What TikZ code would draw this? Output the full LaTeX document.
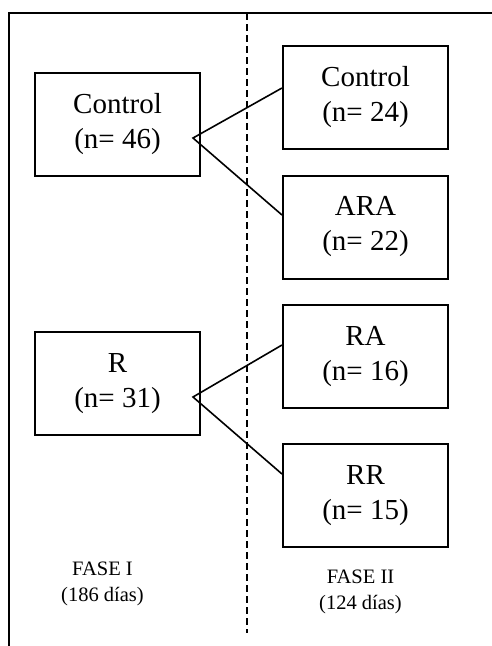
\documentclass[tikz,border=0pt]{standalone}
\usepackage{fontspec}
\setmainfont{Liberation Serif}
\usepackage{tikz}
\usetikzlibrary{positioning}

\begin{document}
\begin{tikzpicture}
        [
        x=1pt,y=-1pt,
        grupo/.style={rectangle,draw,line width=2pt,minimum width=165pt,minimum height=103pt,
                      align=center,font=\fontsize{29}{35}\selectfont},
        fase/.style={align=center,font=\fontsize{20.5}{25.5}\selectfont},
        edge/.style={line width=1.6pt}
        ]
    \useasboundingbox (0,0) rectangle (492,646);
    \draw[line width=2pt] (9,646) -- (9,13) -- (492,13);
    \draw[line width=1.6pt,dash pattern=on 7pt off 4pt] (247,13) -- (247,633);
    \node[grupo] (c1) at (117.5,124) {Control\\(n= 46)};
    \node[grupo] (r1) at (117.5,383.5) {R\\(n= 31)};
    \node[grupo] (c2) at (365.5,97.5) {Control\\(n= 24)};
    \node[grupo] (ara) at (365.5,227) {ARA\\(n= 22)};
    \node[grupo] (ra) at (365.5,356.5) {RA\\(n= 16)};
    \node[grupo] (rr) at (365.5,495.5) {RR\\(n= 15)};
    \node[fase] (f1) at (102.5,584) {FASE I\\(186 días)};
    \node[fase] (f2) at (360.5,592) {FASE II\\(124 días)};
    \coordinate (a1) at ([xshift=-8pt,yshift=-14pt]c1.east);
    \coordinate (a2) at ([xshift=-8pt,yshift=-13.5pt]r1.east);
    \draw[edge] ([yshift=9.5pt]c2.west) -- (a1) -- ([yshift=12pt]ara.west);
    \draw[edge] ([yshift=11.5pt]ra.west) -- (a2) -- ([yshift=21.5pt]rr.west);
    \end{tikzpicture}
\end{document}
